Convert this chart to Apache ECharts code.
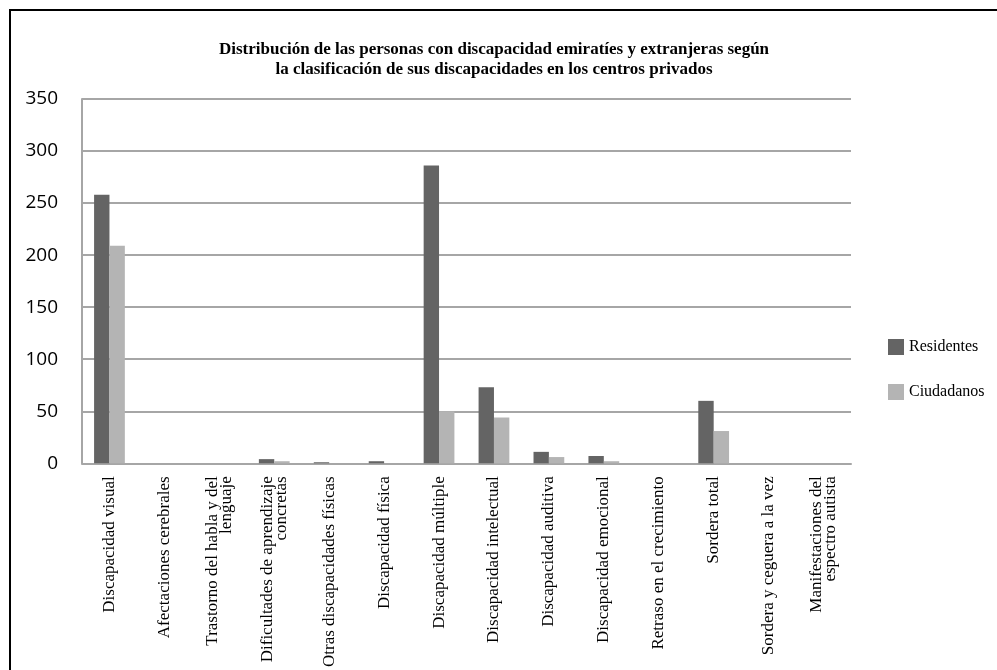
<!DOCTYPE html>
<html>
<head>
<meta charset="utf-8">
<script src="https://cdn.jsdelivr.net/npm/echarts@6/dist/echarts.min.js"></script>
<style>html,body{margin:0;padding:0;background:#fff}#c{width:997px;height:670px}</style>
</head>
<body>
<div id="c"></div>
<script>
const categories = [
  "Discapacidad visual",
  "Afectaciones cerebrales",
  "Trastorno del habla y del\nlenguaje",
  "Dificultades de aprendizaje\nconcretas",
  "Otras discapacidades físicas",
  "Discapacidad física",
  "Discapacidad múltiple",
  "Discapacidad intelectual",
  "Discapacidad auditiva",
  "Discapacidad emocional",
  "Retraso en el crecimiento",
  "Sordera total",
  "Sordera y ceguera a la vez",
  "Manifestaciones del\nespectro autista"
];
const residentes = [258, 0, 0, 4, 1, 2, 286, 73, 11, 7, 0, 60, 0, 0];
const ciudadanos = [209, 0, 0, 2, 0, 0, 50, 44, 6, 2, 0, 31, 0, 0];
const yTicks = [0, 50, 100, 150, 200, 250, 300, 350];

const chart = echarts.init(document.getElementById('c'), null, {renderer: 'canvas'});
chart.setOption({
  animation: false,
  backgroundColor: '#fff',
  title: {
    text: 'Distribución de las personas con discapacidad emiratíes y extranjeras según\nla clasificación de sus discapacidades en los centros privados',
    left: 489, top: 35, textAlign: 'center',
    textStyle: {fontFamily: 'Liberation Serif', fontWeight: 'bold', fontSize: 17, color: '#000', lineHeight: 20}
  },
  legend: {
    orient: 'vertical', left: 883, top: 334, itemWidth: 16, itemHeight: 16, itemGap: 29,
    icon: 'rect',
    textStyle: {fontFamily: 'Liberation Serif', fontSize: 16, color: '#000'},
    data: ['Residentes', 'Ciudadanos']
  },
  grid: {left: 82, right: 146, top: 99, bottom: 206, containLabel: false},
  xAxis: {
    type: 'category', data: categories,
    axisLine: {lineStyle: {color: '#a6a6a6', width: 2}},
    axisTick: {show: false},
    axisLabel: {rotate: 90, interval: 0, fontFamily: 'Liberation Serif', fontSize: 17, color: '#000', margin: 13, lineHeight: 14}
  },
  yAxis: {
    type: 'value', min: 0, max: 350, interval: 50,
    axisLine: {show: true, lineStyle: {color: '#a6a6a6', width: 2}},
    axisTick: {show: false},
    splitLine: {lineStyle: {color: '#a6a6a6', width: 2}},
    axisLabel: {fontFamily: 'Open Sans', fontSize: 19, color: '#000', margin: 24,
      formatter: v => yTicks.includes(v) ? String(v) : ''}
  },
  series: [
    {name: 'Residentes', type: 'bar', data: residentes, barGap: '0%', barCategoryGap: '44%',
      itemStyle: {color: '#646464'}},
    {name: 'Ciudadanos', type: 'bar', data: ciudadanos,
      itemStyle: {color: '#b4b4b4'}}
  ],
  graphic: [{type: 'rect', shape: {x: 10, y: 10, width: 990, height: 700},
    style: {fill: 'none', stroke: '#000', lineWidth: 2}, silent: true}]
});
</script>
</body>
</html>
